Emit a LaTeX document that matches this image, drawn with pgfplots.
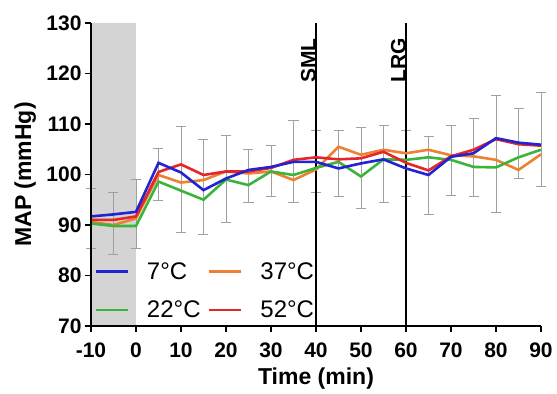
\documentclass[border=0pt]{standalone}
\usepackage{fontspec}
\setmainfont{Liberation Sans}
\usepackage{pgfplots}
\pgfplotsset{compat=1.18}
\usetikzlibrary{calc}
\definecolor{cblue}{RGB}{35,35,210}
\definecolor{cgreen}{RGB}{60,180,60}
\definecolor{corange}{RGB}{238,128,50}
\definecolor{cred}{RGB}{228,38,40}
\definecolor{cshade}{RGB}{212,212,212}
\definecolor{cerr}{RGB}{160,160,160}
\begin{document}
\begin{tikzpicture}
\begin{axis}[
  scale only axis, width=450pt, height=303pt,
  xmin=-10, xmax=90, ymin=70, ymax=130,
  axis x line*=bottom, axis y line*=left,
  axis line style={line width=1.6pt},
  axis on top,
  tick align=outside, major tick length=6pt,
  tick style={line width=1.6pt, black},
  xtick={-10,0,10,20,30,40,50,60,70,80,90},
  ytick={70,80,90,100,110,120,130},
  /pgf/number format/assume math mode=true,
  ticklabel style={font=\bfseries\fontsize{21}{21}\selectfont},
  xticklabel style={yshift=-7pt},
  xlabel={Time (min)}, ylabel={MAP (mmHg)},
  label style={font=\bfseries\fontsize{23}{23}\selectfont},
  xlabel style={at={(axis description cs:0.5,0)}, anchor=base, yshift=-59pt},
  ylabel style={at={(axis description cs:-0.1333,0.5)}, anchor=base},
  clip=false,
  legend columns=2,
  legend cell align=left,
  legend image code/.code={\draw[#1, line width=2.8pt] (0pt,0pt) -- (32pt,0pt);},
  legend style={at={(axis description cs:0.0,0.009)}, anchor=south west, draw=none, fill=none,
    font=\fontsize{24}{24}\selectfont, row sep=16pt,
    /tikz/every odd column/.append style={column sep=16pt},
    /tikz/every even column/.append style={column sep=5pt}},
]
% shaded baseline period
\addplot[fill=cshade, draw=none, forget plot] coordinates {(-10,70) (-10,130) (0,130) (0,70)} \closedcycle;
% error bars
\addplot[draw=none, forget plot,
  error bars/.cd, y dir=both, y explicit,
  error bar style={draw=cerr, line width=0.9pt},
  error mark options={cerr, mark size=5pt, line width=0.9pt, rotate=90}]
  table[x=x, y=y, y error=e] {
x y e
-10 91.35 5.95
-5 90.3 6.2
0 92.25 6.85
5 100.0 5.2
10 99.0 10.5
15 97.6 9.4
20 99.15 8.65
25 99.7 5.3
30 100.75 5.05
35 102.55 8.15
40 102.55 6.15
45 102.2 6.5
50 101.3 8.0
55 102.1 7.7
60 102.2 6.5
65 99.8 7.7
70 102.85 6.95
75 103.4 7.7
80 104.05 11.65
85 106.15 6.95
90 106.9 9.3
};
% vertical markers
\addplot[black, line width=2.6pt, forget plot] coordinates {(40,70) (40,130)};
\addplot[black, line width=2.6pt, forget plot] coordinates {(60,70) (60,130)};
% 37 C
\addplot[corange, line width=2.6pt, forget plot] coordinates {
(-10,90.6) (-5,90.0) (0,91.3) (5,99.9) (10,98.4) (15,98.9) (20,100.6) (25,100.2) (30,100.6) (35,98.9) (40,101.0) (45,105.5) (50,103.9) (55,104.9) (60,104.2) (65,104.9) (70,103.8) (75,103.6) (80,102.9) (85,100.9) (90,104.0)};
% 22 C
\addplot[cgreen, line width=2.6pt, forget plot] coordinates {
(-10,90.3) (-5,89.8) (0,89.8) (5,98.6) (10,96.8) (15,95.0) (20,99.0) (25,97.9) (30,100.6) (35,99.9) (40,101.3) (45,102.5) (50,99.6) (55,103.0) (60,102.9) (65,103.4) (70,102.9) (75,101.5) (80,101.4) (85,103.4) (90,104.9)};
% 52 C
\addplot[cred, line width=2.6pt, forget plot] coordinates {
(-10,91.0) (-5,91.0) (0,91.7) (5,100.5) (10,102.0) (15,99.9) (20,100.6) (25,100.6) (30,101.3) (35,102.9) (40,103.4) (45,103.0) (50,103.2) (55,104.5) (60,102.3) (65,100.8) (70,103.6) (75,104.9) (80,107.0) (85,106.0) (90,105.7)};
% 7 C
\addplot[cblue, line width=2.6pt, forget plot] coordinates {
(-10,91.7) (-5,92.1) (0,92.6) (5,102.3) (10,100.4) (15,96.9) (20,99.2) (25,100.9) (30,101.5) (35,102.5) (40,102.5) (45,101.2) (50,102.2) (55,103.0) (60,101.2) (65,99.9) (70,103.5) (75,104.2) (80,107.2) (85,106.3) (90,105.9)};
\addlegendimage{cblue}\addlegendentry{7°C}
\addlegendimage{corange}\addlegendentry{37°C}
\addlegendimage{cgreen}\addlegendentry{22°C}
\addlegendimage{cred}\addlegendentry{52°C}
\node[rotate=90, anchor=south west, inner sep=0pt, xshift=-6pt, font=\bfseries\fontsize{21}{21}\selectfont] at (axis cs:40,119.3) {SML};
\node[rotate=90, anchor=south west, inner sep=0pt, xshift=-6pt, font=\bfseries\fontsize{21}{21}\selectfont] at (axis cs:60,119.3) {LRG};
\end{axis}
\path (current axis.south west) ++(-91pt,-68pt) rectangle ($(current axis.north east)+(16pt,23pt)$);
\end{tikzpicture}
\end{document}
